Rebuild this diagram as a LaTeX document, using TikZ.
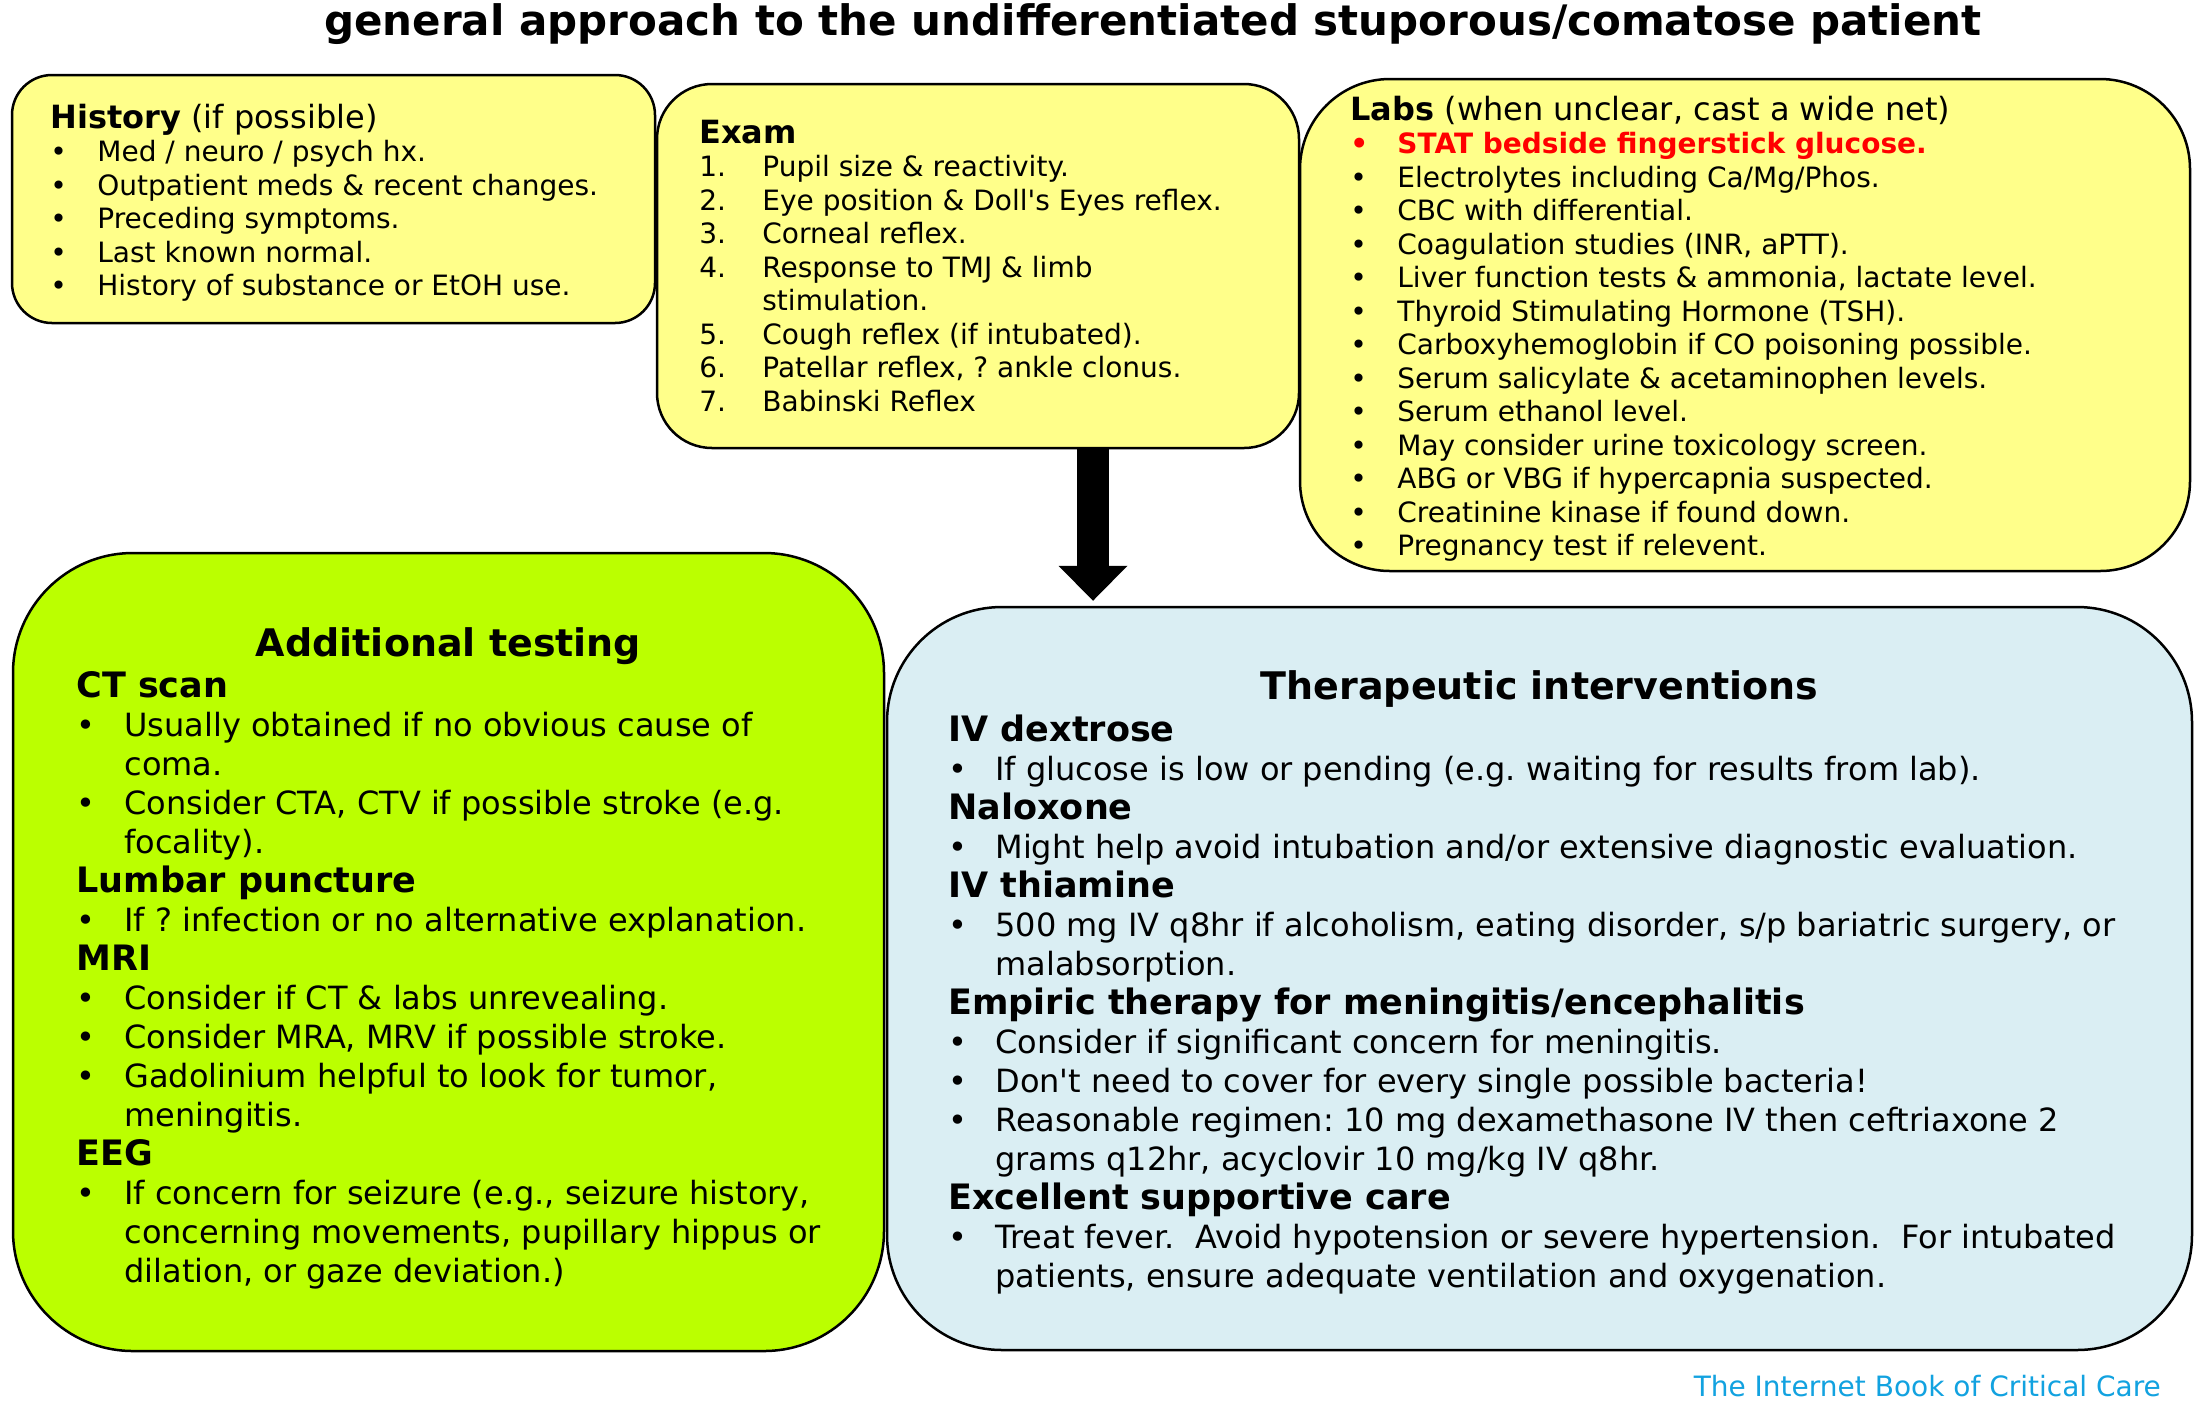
\documentclass[tikz,border=0pt]{standalone}
\usepackage{fontspec}
\setmainfont{DejaVu Sans}
\usepackage{xcolor}
\usetikzlibrary{arrows.meta}
\definecolor{boxyellow}{HTML}{FFFF8A}
\definecolor{boxgreen}{HTML}{BBFF00}
\definecolor{boxblue}{HTML}{DAEEF3}
\definecolor{statred}{HTML}{FF0000}
\definecolor{ibccblue}{HTML}{12A2E0}
\frenchspacing
\newcommand{\upfont}{\fontsize{14}{16.75}\selectfont}
\newcommand{\lowfont}{\fontsize{16}{19.5}\selectfont}
\newcommand{\ttlfont}{\bfseries\fontsize{21}{24}\selectfont}
\newcommand{\hdfont}{\bfseries\fontsize{19}{22}\selectfont}
\newcommand{\uphead}[1]{{\fontsize{16}{16.75}\selectfont #1}}
\newcommand{\subttl}[1]{{\bfseries\fontsize{17.5}{19.5}\selectfont #1}}
\newcommand{\itm}[2][23.5pt]{\makebox[#1][l]{\textbullet}#2}
\newcommand{\cont}[2][23.5pt]{\hspace*{#1}#2}
\newcommand{\exitm}[2]{\makebox[31.5pt][l]{#1}#2}

\begin{document}
\begin{tikzpicture}[x=0.5pt,y=-0.5pt,
  infobox/.style={draw=black,line width=1.25pt,inner sep=0pt},
  bodytext/.style={anchor=base west,align=left,inner sep=0pt},
  fatarrow/.style={line width=16pt,-{Triangle[length=17.5pt,width=34.5pt,line width=0pt]}}]
\useasboundingbox (0,0) rectangle (2200,1410);
\fill[white] (0,0) rectangle (2200,1410);
\node[font=\ttlfont,anchor=base] (title) at (1153,35) {general approach to the undifferentiated stuporous/comatose patient};
\node[infobox,fill=boxyellow,rounded corners=20pt,minimum width=321.5pt,minimum height=124pt] (history) at (333.5,199) {};
\node[infobox,fill=boxyellow,rounded corners=27.5pt,minimum width=321pt,minimum height=182pt] (exam) at (978,266) {};
\node[infobox,fill=boxyellow,rounded corners=45pt,minimum width=445pt,minimum height=246pt] (labs) at (1745,325) {};
\node[infobox,fill=boxgreen,rounded corners=60pt,minimum width=435.5pt,minimum height=399pt] (additional) at (448.5,952) {};
\node[infobox,fill=boxblue,rounded corners=57.5pt,minimum width=652.5pt,minimum height=371.5pt] (therapy) at (1539.5,978.5) {};
% upper row (text placed by the baseline of its last line)
\node[bodytext,font=\upfont] (historytext) at (50,295.5) {\uphead{\textbf{History} (if possible)}\\
\itm{Med / neuro / psych hx.}\\
\itm{Outpatient meds \& recent changes.}\\
\itm{Preceding symptoms.}\\
\itm{Last known normal.}\\
\itm{History of substance or EtOH use.}};
\node[bodytext,font=\upfont] (examtext) at (699,411) {\uphead{\textbf{Exam}}\\
\exitm{1.}{Pupil size \& reactivity.}\\
\exitm{2.}{Eye position \& Doll\textquotesingle s Eyes reflex.}\\
\exitm{3.}{Corneal reflex.}\\
\exitm{4.}{Response to TMJ \& limb}\\
\exitm{}{stimulation.}\\
\exitm{5.}{Cough reflex (if intubated).}\\
\exitm{6.}{Patellar reflex, ? ankle clonus.}\\
\exitm{7.}{Babinski Reflex}};
\node[bodytext,font=\upfont] (labstext) at (1350,555.5) {\uphead{\textbf{Labs} (when unclear, cast a wide net)}\\
{\color{statred}\bfseries\itm{STAT bedside fingerstick glucose.}}\\
\itm{Electrolytes including Ca/Mg/Phos.}\\
\itm{CBC with differential.}\\
\itm{Coagulation studies (INR, aPTT).}\\
\itm{Liver function tests \& ammonia, lactate level.}\\
\itm{Thyroid Stimulating Hormone (TSH).}\\
\itm{Carboxyhemoglobin if CO poisoning possible.}\\
\itm{Serum salicylate \& acetaminophen levels.}\\
\itm{Serum ethanol level.}\\
\itm{May consider urine toxicology screen.}\\
\itm{ABG or VBG if hypercapnia suspected.}\\
\itm{Creatinine kinase if found down.}\\
\itm{Pregnancy test if relevent.}};
% lower row
\node[font=\hdfont,anchor=base] (additionalhead) at (448.5,656) {Additional testing};
\node[bodytext,font=\lowfont] (additionaltext) at (76,1282) {\subttl{CT scan}\\
\itm[24pt]{Usually obtained if no obvious cause of}\\
\cont[24pt]{coma.}\\
\itm[24pt]{Consider CTA, CTV if possible stroke (e.g.}\\
\cont[24pt]{focality).}\\
\subttl{Lumbar puncture}\\
\itm[24pt]{If ? infection or no alternative explanation.}\\
\subttl{MRI}\\
\itm[24pt]{Consider if CT \& labs unrevealing.}\\
\itm[24pt]{Consider MRA, MRV if possible stroke.}\\
\itm[24pt]{Gadolinium helpful to look for tumor,}\\
\cont[24pt]{meningitis.}\\
\subttl{EEG}\\
\itm[24pt]{If concern for seizure (e.g., seizure history,}\\
\cont[24pt]{concerning movements, pupillary hippus or}\\
\cont[24pt]{dilation, or gaze deviation.)}};
\node[font=\hdfont,anchor=base] (therapyhead) at (1539.5,699) {Therapeutic interventions};
\node[bodytext,font=\lowfont] (therapytext) at (948,1287) {\subttl{IV dextrose}\\
\itm{If glucose is low or pending (e.g. waiting for results from lab).}\\
\subttl{Naloxone}\\
\itm{Might help avoid intubation and/or extensive diagnostic evaluation.}\\
\subttl{IV thiamine}\\
\itm{500 mg IV q8hr if alcoholism, eating disorder, s/p bariatric surgery, or}\\
\cont{malabsorption.}\\
\subttl{Empiric therapy for meningitis/encephalitis}\\
\itm{Consider if significant concern for meningitis.}\\
\itm{Don\textquotesingle t need to cover for every single possible bacteria!}\\
\itm{Reasonable regimen: 10 mg dexamethasone IV then ceftriaxone 2}\\
\cont{grams q12hr, acyclovir 10 mg/kg IV q8hr.}\\
\subttl{Excellent supportive care}\\
\itm{Treat fever.\ \ Avoid hypotension or severe hypertension.\ \ For intubated}\\
\cont{patients, ensure adequate ventilation and oxygenation.}};
\node[font=\upfont,text=ibccblue,anchor=base east] (credit) at (2168,1396) {The Internet Book of Critical Care};
% arrow from exam to therapy
\coordinate (arrtop) at ([xshift=57.5pt]exam.south);
\coordinate (arrbase) at (arrtop |- therapy.north);
\draw[fatarrow] (arrtop) -- ([yshift=2.5pt]arrbase);
\end{tikzpicture}
\end{document}
